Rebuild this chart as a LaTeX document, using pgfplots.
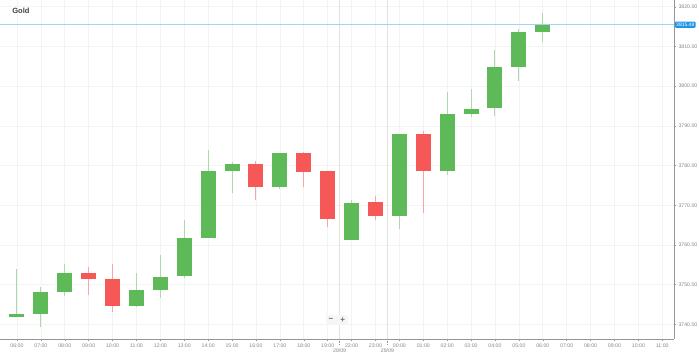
\documentclass[border=0pt]{standalone}
\usepackage{pgfplots}
\pgfplotsset{compat=1.18}
\usepackage{pgfplotstable}
\usepackage{fontspec}
\setmainfont{Liberation Sans}
\definecolor{cgreen}{RGB}{94,185,88}
\definecolor{cgreenw}{RGB}{170,218,165}
\definecolor{cred}{RGB}{246,88,88}
\definecolor{credw}{RGB}{248,165,165}
\definecolor{gridc}{RGB}{243,243,243}
\definecolor{sepc}{RGB}{226,226,226}
\definecolor{axc}{RGB}{150,150,150}
\definecolor{lblc}{RGB}{135,135,135}
\definecolor{pline}{RGB}{160,212,245}
\definecolor{pbox}{RGB}{30,150,230}
\pgfplotstableread{
x o h l c
0 3741.9 3754.0 3741.9 3742.6
1 3742.6 3749.5 3739.3 3748.1
2 3748.1 3755.2 3747.2 3752.9
5 3744.7 3752.9 3744.4 3748.6
6 3748.6 3757.5 3746.7 3752.0
7 3752.2 3766.3 3751.6 3761.7
8 3761.7 3783.8 3761.7 3778.7
9 3778.6 3780.9 3773.0 3780.4
11 3774.5 3783.2 3774.2 3783.1
14 3761.2 3771.2 3761.2 3770.5
16 3767.4 3788.0 3764.0 3787.9
18 3778.7 3798.6 3777.7 3792.9
19 3792.9 3799.3 3792.2 3794.3
20 3794.4 3809.1 3792.6 3804.9
21 3804.9 3814.4 3801.3 3813.6
22 3813.6 3818.5 3811.0 3815.48
}\greendata
\pgfplotstableread{
x o h l c
3 3752.9 3754.4 3747.4 3751.5
4 3751.5 3755.2 3743.1 3744.6
10 3780.4 3781.1 3771.4 3774.6
12 3783.1 3783.4 3774.7 3778.4
13 3778.5 3778.5 3764.6 3766.6
15 3770.7 3772.4 3766.3 3767.3
17 3787.9 3788.7 3768.0 3778.7
}\reddata
\begin{document}
\begin{tikzpicture}
\path[use as bounding box] (0,0) rectangle (699pt,358pt);
\begin{axis}[
  at={(0pt,19pt)}, anchor=south west,
  scale only axis, width=674pt, height=339pt,
  xmin=-0.71, xmax=27.49, ymin=3736.3, ymax=3821.7,
  axis x line*=bottom, axis y line*=right,
  axis line style={-, draw=axc, line width=0.6pt},
  xtick={0,...,27},
  xticklabels={06:00,07:00,08:00,09:00,10:00,11:00,12:00,13:00,14:00,15:00,16:00,17:00,18:00,19:00,22:00,23:00,00:00,01:00,02:00,03:00,04:00,05:00,06:00,07:00,08:00,09:00,10:00,11:00},
  ytick={3740,3750,...,3820},
  yticklabel pos=right,
  /pgf/number format/.cd, fixed, fixed zerofill, precision=2, 1000 sep={}, assume math mode=true,
  /pgfplots/.cd,
  tick align=outside, major tick length=2pt,
  tick style={draw=axc, line width=0.4pt},
  grid=major, major grid style={draw=gridc, line width=0.6pt},
  ticklabel style={font=\fontsize{5.2}{5.5}\selectfont, text=lblc},
  xticklabel style={yshift=0.5pt},
  yticklabel style={xshift=-1pt},
  extra x ticks={13.5,15.5},
  extra x tick labels={28/09,29/09},
  extra x tick style={grid=major, major grid style={draw=sepc, line width=0.7pt},
    tick style={densely dotted, draw=axc}, major tick length=5pt,
    tick label style={yshift=-2pt}},
  clip=false,
]
% price line
\addplot[pline, line width=0.9pt, forget plot] coordinates {(-0.71,3815.48) (27.49,3815.48)};
% wicks
\addplot[draw=none, mark=none, forget plot,
  error bars/.cd, y dir=plus, y explicit, error mark=none,
  error bar style={draw=cgreenw, line width=1pt, solid}]
  table[x=x, y=l, y error expr=\thisrow{h}-\thisrow{l}] {\greendata};
\addplot[draw=none, mark=none, forget plot,
  error bars/.cd, y dir=plus, y explicit, error mark=none,
  error bar style={draw=credw, line width=1pt, solid}]
  table[x=x, y=l, y error expr=\thisrow{h}-\thisrow{l}] {\reddata};
% bodies
\addplot[draw=none, mark=none, forget plot,
  error bars/.cd, y dir=plus, y explicit, error mark=none,
  error bar style={draw=cgreen, line width=15pt, solid}]
  table[x=x, y=o, y error expr=\thisrow{c}-\thisrow{o}] {\greendata};
\addplot[draw=none, mark=none, forget plot,
  error bars/.cd, y dir=plus, y explicit, error mark=none,
  error bar style={draw=cred, line width=15pt, solid}]
  table[x=x, y=c, y error expr=\thisrow{o}-\thisrow{c}] {\reddata};
% price label
\node[anchor=west, fill=pbox, text=white, inner xsep=1.3pt, inner ysep=1.4pt, rounded corners=1pt,
  font=\fontsize{5}{5.5}\selectfont] at (axis cs:27.52,3815.48) {3815.48};
% zoom buttons
\node[fill=gray!7, inner sep=0pt, minimum width=11pt, minimum height=10pt,
  font=\fontsize{8}{8}\selectfont\bfseries, text=gray!85!black] at (axis cs:13.14,3741.1) {−};
\node[fill=gray!7, inner sep=0pt, minimum width=11pt, minimum height=10pt,
  font=\fontsize{8}{8}\selectfont\bfseries, text=gray!85!black] at (axis cs:13.63,3741.1) {+};
% title
\node[anchor=west, font=\fontsize{7.5}{8}\selectfont\bfseries, text=black!75] at (axis cs:-0.34,3818.9) {Gold};
\end{axis}
\end{tikzpicture}
\end{document}
